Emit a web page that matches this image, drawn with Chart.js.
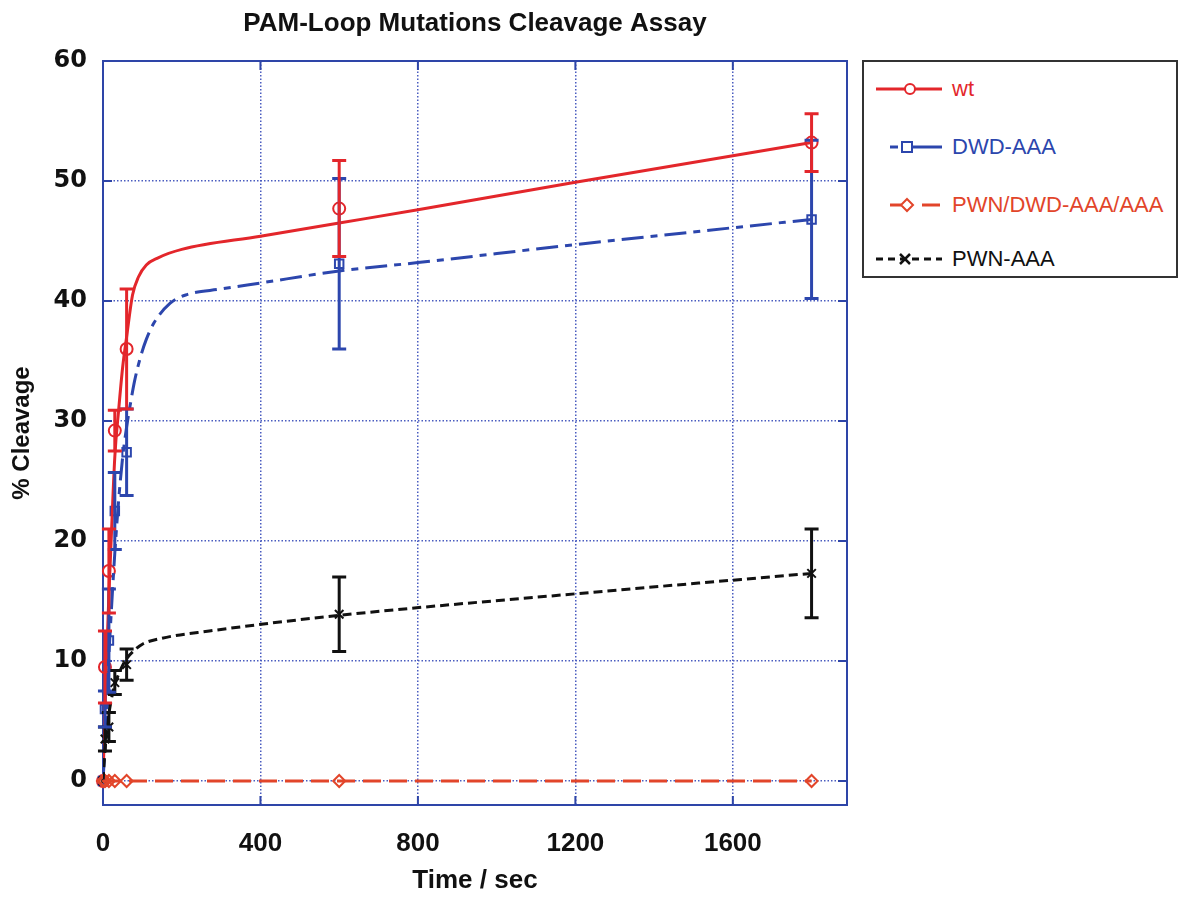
<!DOCTYPE html>
<html>
<head>
<meta charset="utf-8">
<script src="https://cdn.jsdelivr.net/npm/chart.js@4.4.1/dist/chart.umd.min.js"></script>
<style>
  html, body { margin: 0; padding: 0; background: #fff; }
  #wrap { position: relative; width: 1180px; height: 897px; }
  #legend {
    position: absolute; left: 862px; top: 60px; width: 312px; height: 214px;
    border: 2px solid #333; background: #fff;
    font-family: "Liberation Sans", Arial, sans-serif; font-size: 22px;
  }
  .item { position: absolute; left: 10px; height: 24px; display: flex; align-items: center; }
  .item svg { width: 72px; height: 20px; margin-right: 6px; }
</style>
</head>
<body>
<div id="wrap">
  <canvas id="chart" width="1180" height="897"></canvas>
  <div id="legend"></div>
</div>
<script>
// ====================== Data ======================
const times = [0, 5, 15, 30, 60, 600, 1800];

const wtVals = [0, 9.5, 17.5, 29.2, 36.0, 47.7, 53.2];
const wtErr = [0, 3, 3.5, 1.7, 5, 4, 2.4];

const dwdVals = [0, 6, 11.7, 22.5, 27.4, 43.1, 46.8];
const dwdErr = [0, 1.5, 4.3, 3.2, 3.6, 7.1, 6.6];

const pwnDwdVals = [0, 0, 0, 0, 0, 0, 0];

const pwnVals = [0, 3.5, 4.5, 8.2, 9.7, 13.9, 17.3];
const pwnErr = [0, 1, 1.2, 1, 1.3, 3.1, 3.7];

// fitted curves
const wtFitT = [0, 5, 10, 15, 20, 30, 40, 50, 60, 75, 90, 110, 140, 200, 400, 600, 800, 1200, 1800];
const wtFitV = [0, 6, 11, 15.5, 19.5, 27, 31, 34.5, 37, 40.5, 42, 43, 43.6, 44.3, 45.4, 46.5, 47.6, 49.9, 53.2];

const dwdFitT = [0, 5, 10, 15, 20, 30, 40, 50, 60, 70, 80, 95, 110, 130, 170, 210, 300, 400, 600, 800, 1200, 1800];
const dwdFitV = [0, 3, 7, 10.5, 13.5, 19, 23.5, 27, 29.5, 31.5, 33.3, 35.3, 36.8, 38.2, 39.8, 40.5, 41, 41.5, 42.5, 43.2, 44.7, 46.8];

const pwnFitT = [0, 5, 10, 15, 20, 30, 45, 60, 80, 100, 150, 270, 600, 1200, 1800];
const pwnFitV = [0, 2.5, 4.3, 5.6, 6.6, 8, 9.3, 10.2, 10.9, 11.4, 11.9, 12.5, 13.8, 15.6, 17.3];

const pwnDwdFitT = [0, 1800];
const pwnDwdFitV = [0, 0];

const xTicks = [0, 400, 800, 1200, 1600];
const yTicks = [0, 10, 20, 30, 40, 50, 60];

const RED = '#e3262b', BLUE = '#2c46ad', ORANGE = '#e2452a', BLACK = '#111111';
const AXIS = '#2e45a8';

const pts = (xs, ys) => xs.map((t, i) => ({ x: t, y: ys[i] }));

// ====================== Plugins ======================
const frame = {
  id: 'frame',
  beforeDatasetsDraw(chart) {
    const { ctx, chartArea: a, scales: { x, y } } = chart;
    ctx.save();
    ctx.strokeStyle = AXIS;
    ctx.lineWidth = 2;
    ctx.strokeRect(a.left, a.top, a.right - a.left, a.bottom - a.top);
    ctx.beginPath();
    yTicks.forEach(v => {
      const py = y.getPixelForValue(v);
      ctx.moveTo(a.left, py); ctx.lineTo(a.left + 9, py);
      ctx.moveTo(a.right, py); ctx.lineTo(a.right - 9, py);
    });
    xTicks.forEach(v => {
      const px = x.getPixelForValue(v);
      ctx.moveTo(px, a.bottom); ctx.lineTo(px, a.bottom - 9);
      ctx.moveTo(px, a.top); ctx.lineTo(px, a.top + 9);
    });
    ctx.stroke();
    ctx.restore();
  }
};

const errorBars = {
  id: 'errorBars',
  afterDatasetsDraw(chart) {
    const { ctx, scales: { x, y } } = chart;
    chart.data.datasets.forEach(ds => {
      if (!ds.errors) return;
      ctx.save();
      ctx.strokeStyle = ds.borderColor;
      ctx.lineWidth = 3;
      ds.data.forEach((p, j) => {
        const e = ds.errors[j];
        if (!e) return;
        const px = x.getPixelForValue(p.x);
        const top = y.getPixelForValue(p.y + e);
        const bot = y.getPixelForValue(p.y - e);
        ctx.beginPath();
        ctx.moveTo(px, top); ctx.lineTo(px, bot);
        ctx.moveTo(px - 7, top); ctx.lineTo(px + 7, top);
        ctx.moveTo(px - 7, bot); ctx.lineTo(px + 7, bot);
        ctx.stroke();
      });
      ctx.restore();
    });
  }
};

// ====================== Chart ======================
function fitLine(data, color, dash) {
  return {
    data, showLine: true, borderColor: color, borderWidth: 3, borderDash: dash,
    pointRadius: 0, cubicInterpolationMode: 'monotone', fill: false
  };
}
function markers(data, color, style, errors) {
  return {
    data, showLine: false, borderColor: color, backgroundColor: 'rgba(255,255,255,0)',
    pointStyle: style, pointRadius: 6, pointBorderWidth: 2, errors, clip: false
  };
}

const tickFontX = { family: '"Liberation Sans", Arial, sans-serif', size: 26, weight: 'bold' };
const tickFontY = { family: '"DejaVu Sans", sans-serif', size: 24, weight: 'bold' };
const gridOpts = { color: '#4a5cc0', lineWidth: 1.5, drawTicks: false };
const borderOpts = { display: false, dash: [1.5, 2] };

new Chart(document.getElementById('chart'), {
  type: 'scatter',
  data: {
    datasets: [
      fitLine(pts(pwnDwdFitT, pwnDwdFitV), ORANGE, [18, 8]),
      fitLine(pts(pwnFitT, pwnFitV), BLACK, [9, 5]),
      fitLine(pts(dwdFitT, dwdFitV), BLUE, [22, 7, 7, 7]),
      fitLine(pts(wtFitT, wtFitV), RED, []),
      markers(pts(times, pwnDwdVals), ORANGE, 'rectRot', null),
      markers(pts(times, pwnVals), BLACK, 'crossRot', pwnErr),
      markers(pts(times, dwdVals), BLUE, 'rect', dwdErr),
      markers(pts(times, wtVals), RED, 'circle', wtErr)
    ]
  },
  options: {
    responsive: false,
    animation: false,
    layout: { padding: { left: 0, right: 333, top: 0, bottom: 0 } },
    plugins: {
      legend: { display: false },
      tooltip: { enabled: false },
      title: {
        display: true, fullSize: false,
        text: 'PAM-Loop Mutations Cleavage Assay',
        color: '#111',
        font: { family: '"Liberation Sans", Arial, sans-serif', size: 26, weight: 'bold' },
        padding: { top: 8, bottom: 21.8 }
      }
    },
    scales: {
      x: {
        type: 'linear', min: 0, max: 1890,
        afterBuildTicks: s => { s.ticks = xTicks.map(v => ({ value: v })); },
        afterFit: s => { s.height = 92; },
        grid: gridOpts,
        border: borderOpts,
        ticks: { font: tickFontX, color: '#111', padding: 23, maxRotation: 0, callback: v => String(v) },
        title: {
          display: true, text: 'Time / sec', color: '#111',
          font: { family: '"Liberation Sans", Arial, sans-serif', size: 26, weight: 'bold' },
          padding: { top: 0, bottom: 1 }
        }
      },
      y: {
        type: 'linear', min: -2, max: 60,
        afterBuildTicks: s => { s.ticks = yTicks.map(v => ({ value: v })); },
        afterFit: s => { s.width = 103; },
        grid: gridOpts,
        border: borderOpts,
        ticks: { font: tickFontY, color: '#111', padding: 16, callback: v => String(v) },
        title: {
          display: true, text: '% Cleavage', color: '#111',
          font: { family: '"Liberation Sans", Arial, sans-serif', size: 24, weight: 'bold' },
          padding: { top: 8, bottom: 0 }
        }
      }
    }
  },
  plugins: [frame, errorBars]
});

// ====================== Legend ======================
const legendItems = [
  { label: 'wt', color: RED, top: 15,
    svg: `<line x1="2" y1="10" x2="68" y2="10" stroke="${RED}" stroke-width="3"/>
          <circle cx="36" cy="10" r="5" fill="#fff" stroke="${RED}" stroke-width="2"/>` },
  { label: 'DWD-AAA', color: BLUE, top: 73,
    svg: `<line x1="16" y1="10" x2="24" y2="10" stroke="${BLUE}" stroke-width="3"/>
          <line x1="36" y1="10" x2="68" y2="10" stroke="${BLUE}" stroke-width="3"/>
          <rect x="28" y="5" width="10" height="10" fill="#fff" stroke="${BLUE}" stroke-width="2"/>` },
  { label: 'PWN/DWD-AAA/AAA', color: ORANGE, top: 131,
    svg: `<line x1="16" y1="10" x2="27" y2="10" stroke="${ORANGE}" stroke-width="3"/>
          <line x1="48" y1="10" x2="66" y2="10" stroke="${ORANGE}" stroke-width="3"/>
          <polygon points="33,4 39,10 33,16 27,10" fill="#fff" stroke="${ORANGE}" stroke-width="2"/>` },
  { label: 'PWN-AAA', color: BLACK, top: 185,
    svg: `<line x1="2" y1="10" x2="68" y2="10" stroke="${BLACK}" stroke-width="3" stroke-dasharray="7,5"/>
          <path d="M26 5 L36 15 M36 5 L26 15" stroke="${BLACK}" stroke-width="2.5" fill="none"/>` }
];

const legend = document.getElementById('legend');
legendItems.forEach(it => {
  const div = document.createElement('div');
  div.className = 'item';
  div.style.top = it.top + 'px';
  div.innerHTML = `<svg viewBox="0 0 72 20">${it.svg}</svg><span style="color:${it.color}">${it.label}</span>`;
  legend.appendChild(div);
});
</script>
</body>
</html>
